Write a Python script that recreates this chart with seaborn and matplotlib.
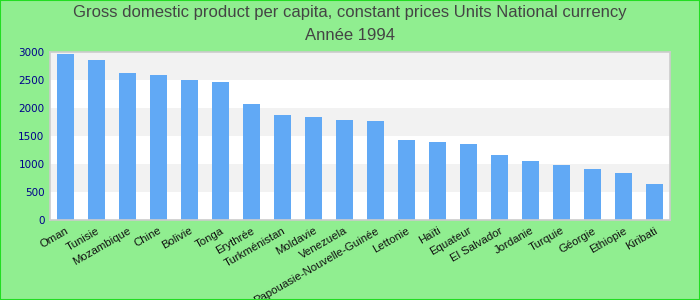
import matplotlib
matplotlib.use("Agg")
import matplotlib.pyplot as plt
import matplotlib.patches as mpatches
import seaborn as sns
import pandas as pd

countries = ["Oman", "Tunisie", "Mozambique", "Chine", "Bolivie", "Tonga", "Erythrée",
             "Turkménistan", "Moldavie", "Venezuela", "Papouasie-Nouvelle-Guinée",
             "Lettonie", "Haïti", "Equateur", "El Salvador", "Jordanie", "Turquie",
             "Géorgie", "Ethiopie", "Kiribati"]
values = [2966, 2860, 2628, 2593, 2504, 2451, 2060, 1865, 1829, 1776, 1758,
          1421, 1385, 1350, 1154, 1048, 977, 906, 835, 639]
yticks = [0, 500, 1000, 1500, 2000, 2500, 3000]
title1 = "Gross domestic product per capita, constant prices Units National currency"
title2 = "Année 1994"

df = pd.DataFrame({"country": countries, "value": values})

sns.set_style("white")
fig = plt.figure(figsize=(7, 3), dpi=100, facecolor="#90EE90")
ax = fig.add_axes([50/700, 1-220/300, 620/700, (220-51.7)/300])
ax.set_facecolor("white")

# alternating bands
for i in range(len(yticks) - 1):
    if i % 2 == 1:
        ax.axhspan(yticks[i], yticks[i+1], color="#f2f2f2", zorder=0, lw=0)

sns.barplot(data=df, x="country", y="value", color="#61a9f5", saturation=1,
            width=0.55, ax=ax, zorder=2, linewidth=0, edgecolor="none")
ax.set_xlim(-0.5, len(countries) - 0.5)
ax.set_ylim(0, 3000)
ax.set_yticks(yticks)
ax.set_yticklabels([str(t) for t in yticks], color="#00008b", fontsize=7.5,
                   family="DejaVu Sans")
ax.set_xticks(range(len(countries)))
ax.set_xticklabels(countries, rotation=30, ha="right", rotation_mode="anchor",
                   fontsize=8.2, family="Liberation Sans", color="#111111")
ax.tick_params(axis="both", length=0, pad=4)
ax.set_xlabel("")
ax.set_ylabel("")
for s in ax.spines.values():
    s.set_color("#cccccc")
    s.set_linewidth(1.2)

fig.text(0.5, 1 - 13/300, title1, ha="center", va="center", fontsize=12,
         color="#444444", family="Liberation Sans")
fig.text(0.5, 1 - 36/300, title2, ha="center", va="center", fontsize=12,
         color="#444444", family="Liberation Sans")

fig.patches.append(mpatches.Rectangle((0, 0), 1, 1, transform=fig.transFigure,
                                      fill=False, edgecolor="#22dd22", lw=1.5))
fig.savefig("out.png", dpi=100, facecolor=fig.get_facecolor())
